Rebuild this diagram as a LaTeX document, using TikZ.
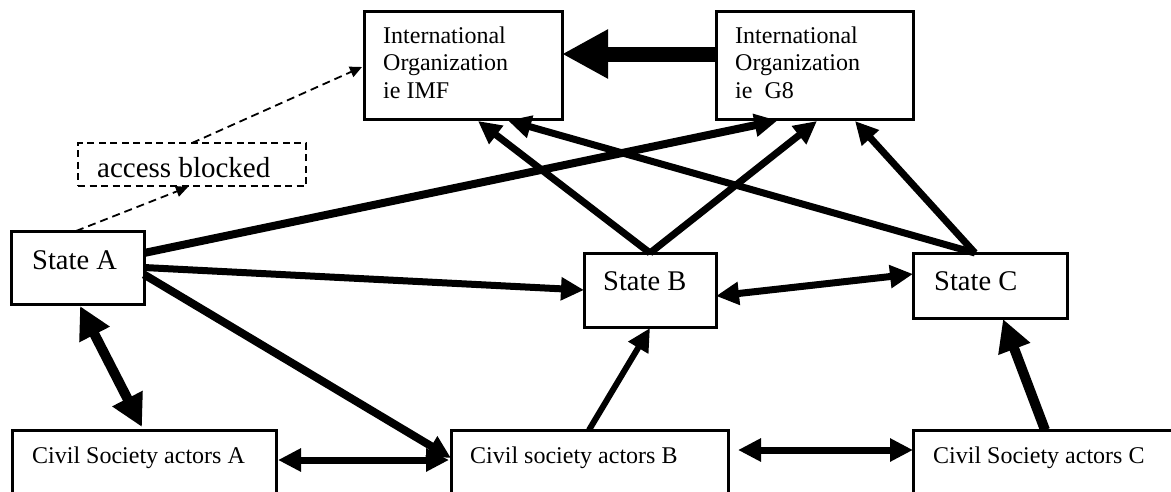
\documentclass[tikz,border=0pt]{standalone}
\usepackage{fontspec}
\setmainfont{Liberation Serif}
\usetikzlibrary{arrows.meta}
\begin{document}
\begin{tikzpicture}[x=1pt,y=-1pt,
  box/.style={draw, line width=3pt, inner sep=0pt, outer sep=0pt},
  dbox/.style={draw, line width=1.6pt, dash pattern=on 7pt off 4.5pt, inner sep=0pt, outer sep=0pt},
  txt/.style={anchor=base west, inner sep=0pt},
  conn/.style={line width=7pt, -{Triangle[length=23pt,width=22pt]}},
  conntwo/.style={line width=7pt, {Triangle[length=23pt,width=22pt]}-{Triangle[length=23pt,width=22pt]}},
  heavytwo/.style={line width=10pt, {Triangle[length=32pt,width=32pt]}-{Triangle[length=32pt,width=32pt]}},
  heavy/.style={line width=10pt, -{Triangle[length=32pt,width=32pt]}},
  hugearrow/.style={line width=15pt, -{Triangle[length=46pt,width=46pt]}},
  dconn/.style={line width=1.8pt, dash pattern=on 8pt off 5pt, -{Triangle[length=12pt,width=11pt]}},
  io/.style={txt, font=\fontsize{24}{27.5}\selectfont},
  st/.style={txt, font=\fontsize{28.5}{32}\selectfont},
  cs/.style={txt, font=\fontsize{24}{27.5}\selectfont}
]
\useasboundingbox (0,0) rectangle (1171,491);
\clip (0,0) rectangle (1171,491);

% boxes
\node[box, minimum width=198pt, minimum height=108pt] (imf) at (463,65) {};
\node[box, minimum width=197pt, minimum height=108pt] (g8) at (814.5,65) {};
\node[dbox, minimum width=228pt, minimum height=43pt] (ab) at (192,164.5) {};
\node[box, minimum width=133pt, minimum height=73pt] (sa) at (77.5,267.5) {};
\node[box, minimum width=132pt, minimum height=74pt] (sb) at (650,290) {};
\node[box, minimum width=154pt, minimum height=65pt] (sc) at (990,285.5) {};
\node[box, minimum width=264pt, minimum height=90pt] (csa) at (144,475) {};
\node[box, minimum width=277pt, minimum height=90pt] (csb) at (589.5,475) {};
\node[box, minimum width=287pt, minimum height=90pt] (csc) at (1056.5,475) {};

% texts
\node[io] (imft1) at (383,43) {International};
\node[io] (imft2) at (383,70.5) {Organization};
\node[io] (imft3) at (383,98) {ie IMF};
\node[io] (g8t1) at (735,43) {International};
\node[io] (g8t2) at (735,70.5) {Organization};
\node[io] (g8t3) at (735,98) {ie\hspace{12pt}G8};
\node[txt, font=\fontsize{29}{32}\selectfont] (abt) at (97,177) {access blocked};
\node[st] (sat) at (32,269) {State A};
\node[st] (sbt) at (603,290) {State B};
\node[st] (sct) at (934,290) {State C};
\node[cs] (csat) at (32,463) {Civil Society actors A};
\node[cs] (csbt) at (470,463) {Civil society actors B};
\node[cs] (csct) at (933,463) {Civil Society actors C};

% connectors
\draw[hugearrow] ([yshift=11pt]g8.west) -- ([yshift=11pt]imf.east);
\draw[conn, line width=8pt] ([yshift=14.5pt]sa.east) -- ([xshift=-37pt,yshift=-1.5pt]g8.south);
\draw[conn] (sa.east) -- (sb.west);
\draw[conn, line width=8pt] ([yshift=-7pt]sa.east) -- ([yshift=-28pt]csb.north west);
\draw[conntwo] ([xshift=2pt,yshift=-30pt]csa.north east) -- ([xshift=-2pt,yshift=-30pt]csb.north west);
\draw[heavytwo] ([xshift=2.5pt,yshift=-2pt]sa.south) -- ([xshift=-2pt,yshift=3pt]csa.north);
\draw[conn, line width=6pt] ([xshift=-0.5pt]csb.north) -- ([yshift=-1pt]sb.south);
\draw[conntwo] ([xshift=10pt,yshift=-20pt]csb.north east) -- ([yshift=-20pt]csc.north west);
\draw[heavy] ([xshift=132pt]csc.north west) -- ([xshift=13pt,yshift=-1pt]sc.south);
\draw[conntwo] ([yshift=-6pt]sb.east) -- ([yshift=11.5pt]sc.west);
\draw[conn] (sb.north) -- ([xshift=15pt,yshift=-2pt]imf.south);
\draw[conn] (sb.north) -- ([xshift=2.5pt,yshift=-2pt]g8.south);
\draw[conn] ([xshift=-15pt]sc.north) -- ([xshift=45pt,yshift=-1.5pt]imf.south);
\draw[conn] ([xshift=-15pt]sc.north) -- ([xshift=40.5pt,yshift=-2pt]g8.south);
\draw[dconn] ([xshift=-1.5pt]sa.north) -- ([xshift=-4pt,yshift=-1pt]ab.south);
\draw[dconn] (ab.north) -- ([xshift=-2pt,yshift=-2pt]imf.west);
\end{tikzpicture}
\end{document}
